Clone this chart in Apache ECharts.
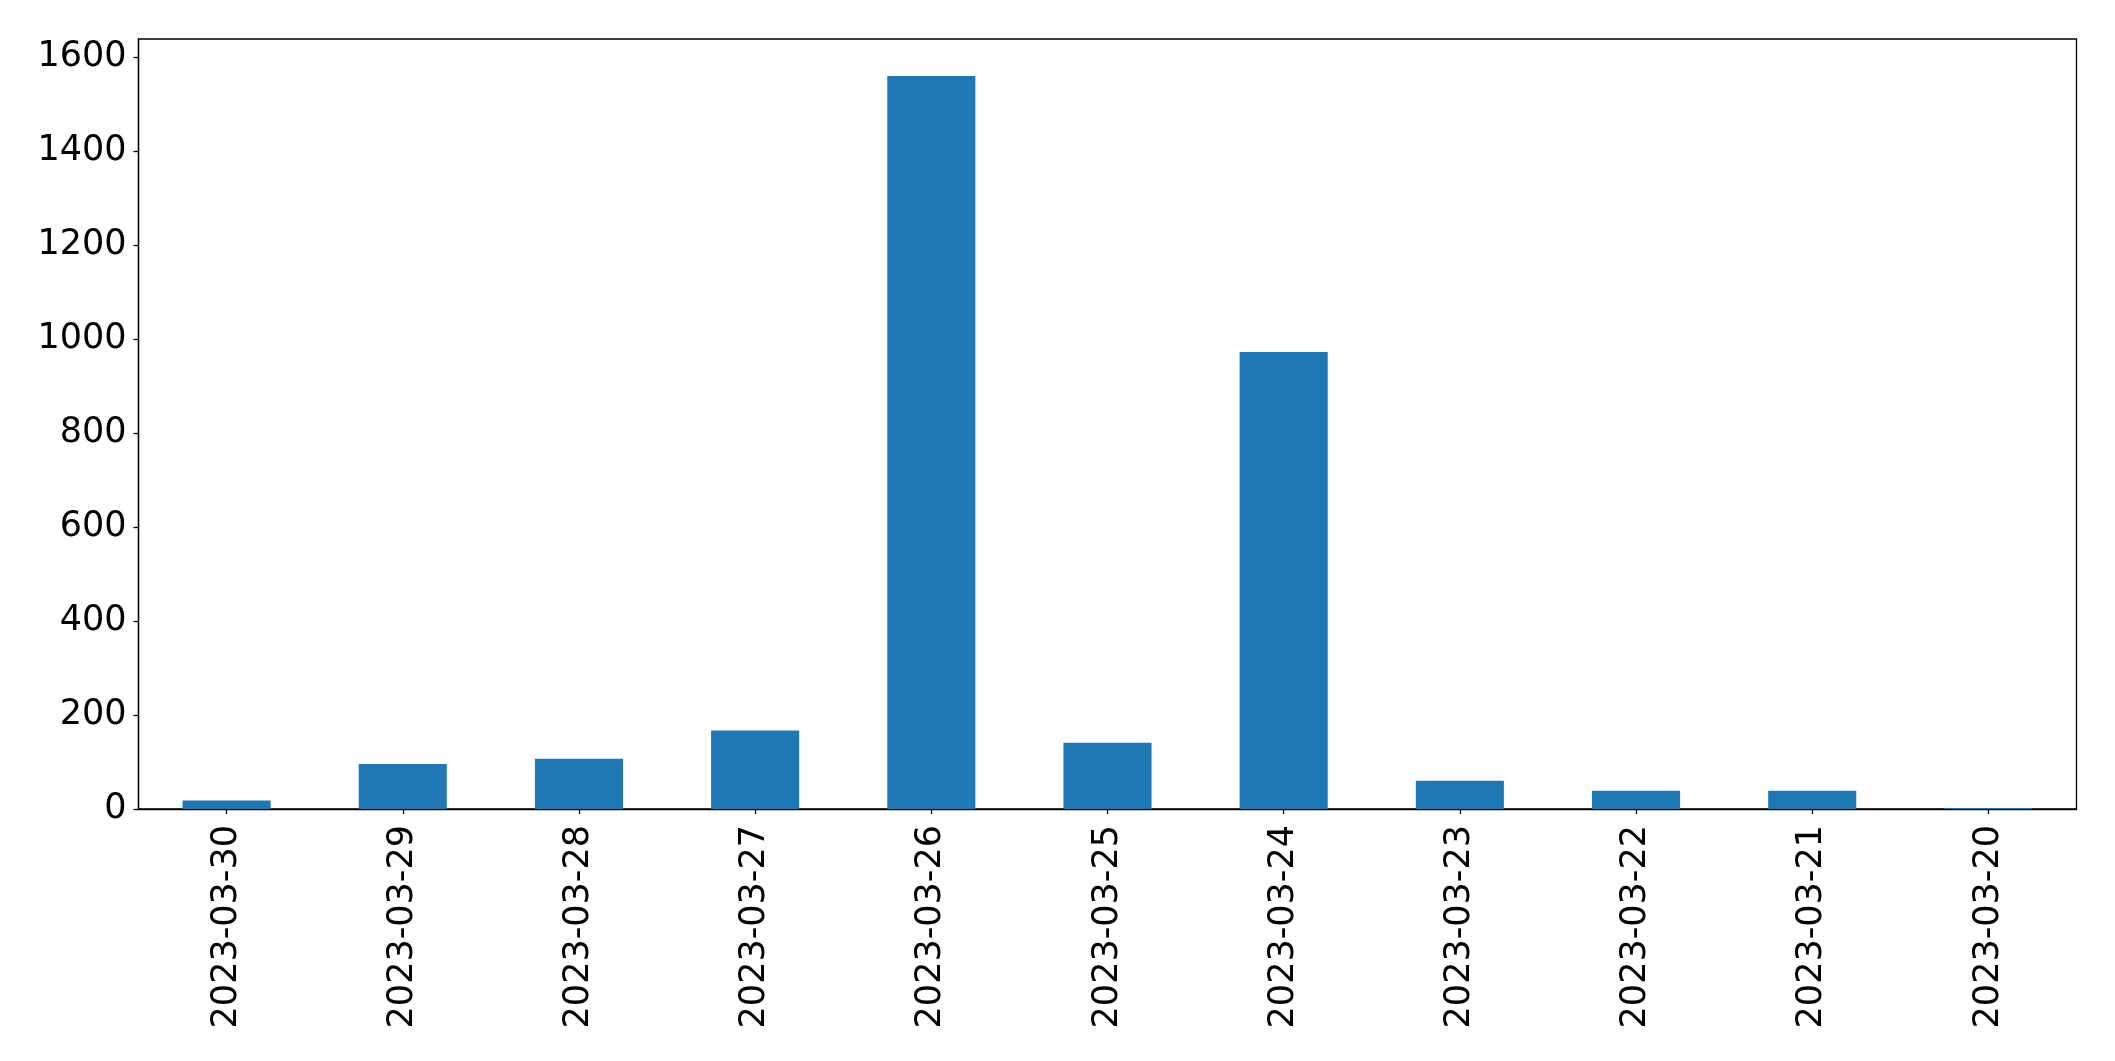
<!DOCTYPE html>
<html>
<head>
<meta charset="utf-8">
<script src="https://cdn.jsdelivr.net/npm/echarts@6/dist/echarts.min.js"></script>
<style>
html,body{margin:0;padding:0;background:#fff;}
#chart{width:2115px;height:1061px;}
</style>
</head>
<body>
<div id="chart"></div>
<script>
const categories = ['2023-03-30','2023-03-29','2023-03-28','2023-03-27','2023-03-26','2023-03-25','2023-03-24','2023-03-23','2023-03-22','2023-03-21','2023-03-20'];
const values = [18, 96, 107, 167, 1560, 141, 973, 60, 39, 39, 2];
const yTicks = [0, 200, 400, 600, 800, 1000, 1200, 1400, 1600];

const chart = echarts.init(document.getElementById('chart'), null, {renderer: 'canvas'});
const font = 'DejaVu Sans';
chart.setOption({
  animation: false,
  backgroundColor: '#ffffff',
  grid: {
    left: 138.5, right: 38.5, top: 39, bottom: 252,
    show: true, borderColor: '#000', borderWidth: 1.3, backgroundColor: 'transparent'
  },
  xAxis: {
    type: 'category',
    data: categories,
    boundaryGap: true,
    axisLine: {show: true, lineStyle: {color: '#000', width: 1.3}},
    axisTick: {show: true, alignWithLabel: true, length: 5, lineStyle: {color: '#000', width: 1.3}},
    axisLabel: {rotate: 90, margin: 16, color: '#000', fontFamily: font, fontSize: 35, interval: 0},
    splitLine: {show: false}
  },
  yAxis: {
    type: 'value',
    min: 0, max: 1639,
    axisLine: {show: true, lineStyle: {color: '#000', width: 1.3}},
    axisTick: {show: true, length: 5, lineStyle: {color: '#000', width: 1.3}, customValues: yTicks},
    axisLabel: {margin: 12, color: '#000', fontFamily: font, fontSize: 35, customValues: yTicks,
      formatter: function (v) { return String(v); }},
    splitLine: {show: false}
  },
  series: [{
    type: 'bar',
    data: values,
    barWidth: '50%',
    itemStyle: {color: '#1f77b4'}
  }]
});
</script>
</body>
</html>
